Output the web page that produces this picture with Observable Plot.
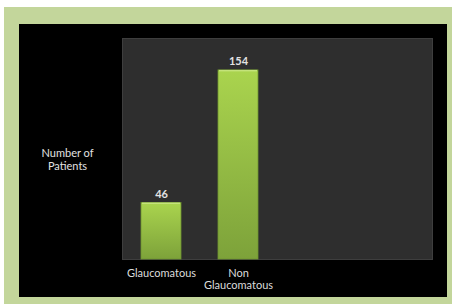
<!DOCTYPE html>
<html>
<head>
<meta charset="utf-8">
<script src="https://cdn.jsdelivr.net/npm/d3@7"></script>
<script src="https://cdn.jsdelivr.net/npm/@observablehq/plot@0.6"></script>
<style>
  html, body { margin: 0; padding: 0; background: #ffffff; width: 452px; height: 304px; overflow: hidden; }
  #outer { position: absolute; left: 4px; top: 7px; width: 448px; height: 297px; background: #c3d69b; }
  #chart { position: absolute; left: 19px; top: 24px; width: 428px; height: 273px; background: #000000; }
  #chart svg { display: block; background: #000000; }
</style>
</head>
<body>
<div id="outer"></div>
<div id="chart"></div>
<script>
const categories = ["Glaucomatous", "Non Glaucomatous"];
const patients = [46, 154];
const tickLabels = ["Glaucomatous", "Non\nGlaucomatous"];
const yLabel = "Number of\nPatients";

const data = categories.map((c, i) => ({category: c, value: patients[i]}));

const W = 428, H = 273;
const mL = 103, mR = 15, mT = 14, mB = 38;

const gradientDefs = () => {
  const svg = d3.create("svg:defs");
  const g = svg.append("linearGradient").attr("id", "barGrad").attr("x1", 0).attr("y1", 0).attr("x2", 0).attr("y2", 1);
  g.append("stop").attr("offset", "0%").attr("stop-color", "#aad44e");
  g.append("stop").attr("offset", "100%").attr("stop-color", "#7da23a");
  return svg.node();
};

const chart = Plot.plot({
  width: W,
  height: H,
  marginLeft: mL,
  marginRight: mR,
  marginTop: mT,
  marginBottom: mB,
  style: {background: "#000000", fontFamily: "Lato, 'Open Sans', sans-serif", color: "#e0e0e0"},
  x: {domain: categories, range: [mL, mL + 155], paddingInner: 0.484, paddingOuter: 0.242, label: null},
  y: {domain: [0, 180], label: null, axis: null},
  marks: [
    gradientDefs,
    Plot.frame({fill: "#2e2e2e", stroke: "#3e3e3e"}),
    Plot.barY(data, {x: "category", y: "value", fill: "url(#barGrad)", stroke: "#6f9530", strokeWidth: 0.8}),
    Plot.barY(data, {x: "category", y1: d => d.value - 1.2, y2: "value", fill: "#c4e37a", insetLeft: 1, insetRight: 1}),
    Plot.text(data, {x: "category", y: "value", text: d => String(d.value), dy: -9, fill: "#e2e2e2", fontSize: 11, fontWeight: "bold"}),
    Plot.axisX({tickSize: 0, tickPadding: 9, fontSize: 11, lineHeight: 1.1, fill: "#dcdcdc", tickFormat: (d) => tickLabels[categories.indexOf(d)]}),
    Plot.text([yLabel], {frameAnchor: "left", dx: -55, dy: 10, text: d => d, fill: "#e2e2e2", fontSize: 11, textAnchor: "middle", lineHeight: 1.2})
  ]
});

document.getElementById("chart").appendChild(chart);
</script>
</body>
</html>
